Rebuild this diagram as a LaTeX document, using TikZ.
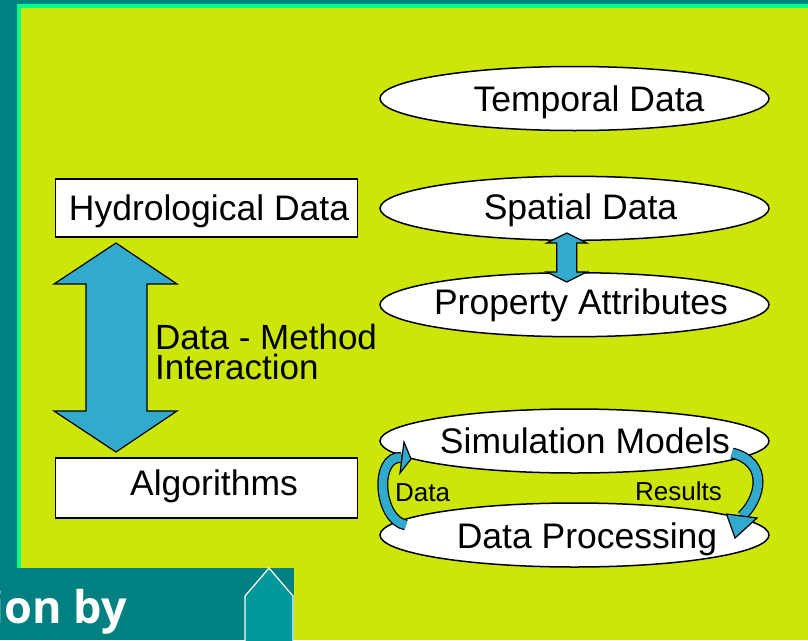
\documentclass[tikz,border=0pt]{standalone}
\usepackage{fontspec}
\setmainfont{Liberation Sans}
\newfontfamily\footerfont{Open Sans}
\usetikzlibrary{shapes.geometric}
\definecolor{tealbg}{RGB}{0,128,128}
\definecolor{mint}{RGB}{0,255,136}
\definecolor{lime}{RGB}{205,230,10}
\definecolor{arrowblue}{RGB}{50,170,205}
\definecolor{tealpent}{RGB}{0,153,153}
\begin{document}
\begin{tikzpicture}[x=1pt,y=-1pt,
  boxnode/.style={draw=black, line width=1.5pt, fill=white, rectangle, minimum width=302pt, inner sep=0pt},
  ellnode/.style={draw=black, line width=1.5pt, fill=white, ellipse, minimum width=389pt, minimum height=64pt, inner sep=0pt},
  lbl/.style={inner sep=0pt, anchor=base, font=\fontsize{35.5}{40}\selectfont},
  lblw/.style={inner sep=0pt, anchor=base west, font=\fontsize{35}{40}\selectfont},
  smalllbl/.style={inner sep=0pt, anchor=base west, font=\fontsize{26}{30}\selectfont},
  blockarrow/.style={draw=black, line width=1.2pt, fill=arrowblue, line join=miter},
  bodyout/.style={draw=black, line width=11pt},
  bodyin/.style={draw=arrowblue, line width=8.5pt},
]
\useasboundingbox (0,0) rectangle (808,640);
% background
\fill[tealbg] (0,0) rectangle (808,640);
\fill[mint] (17,4) rectangle (808,568);
\fill[lime] (21,8) rectangle (808,640);
\fill[tealbg] (0,568) rectangle (294,640);
\draw[white, line width=1.2pt, fill=tealpent] (245,642) -- (245,596) -- (269,568) -- (293,596) -- (293,642);
\node[inner sep=0pt, anchor=base east, text=white, font=\footerfont\bfseries\fontsize{45}{50}\selectfont] (footer) at (127,623) {ion by};

% left boxes
\node[boxnode, minimum height=58pt] (hydro) at (206.5,208) {};
\node[lbl] (hydroT) at (209,220) {Hydrological Data};
\node[boxnode, minimum height=60pt] (algo) at (206.5,488) {};
\node[lbl] (algoT) at (214,495) {Algorithms};

% big double arrow
\draw[blockarrow] (116,243) -- (177,284) -- (147,284) -- (147,411) -- (177,411)
  -- (116,452) -- (54,411) -- (86,411) -- (86,284) -- (54,284) -- cycle;
\node[lblw, text depth=0pt] (dm1) at (155,349.3) {Data - Method};
\node[lblw, text height=25pt] (dm2) at (155,379) {Interaction};

% ellipses
\node[ellnode] (temporal) at (574.5,98.5) {};
\node[lbl] (temporalT) at (589,111.5) {Temporal Data};
\node[ellnode] (spatial) at (574.5,208.3) {};
\node[lbl] (spatialT) at (580.5,219.3) {Spatial Data};
\node[ellnode] (property) at (574.5,304.7) {};
\node[lbl] (propertyT) at (581,314.3) {Property Attributes};
\node[ellnode] (simulation) at (574.5,441) {};
\node[lbl] (simulationT) at (585,453.3) {Simulation Models};
\node[ellnode] (processing) at (574.5,535) {};
\node[lbl] (processingT) at (587,548) {Data Processing};

% small double arrow between spatial and property
\draw[blockarrow] (566.7,233) -- (586.7,243) -- (576.7,243) -- (576.7,272) -- (586.7,272)
  -- (566.7,282) -- (546.7,272) -- (556.7,272) -- (556.7,243) -- (546.7,243) -- cycle;

% curved arrows
\coordinate (dtail) at (406,525);
\coordinate (dend) at (401.5,457.5);
\draw[bodyout] (dtail) .. controls (378,520) and (374,455) .. (dend);
\draw[bodyin] (dtail) .. controls (378,520) and (374,455) .. (dend);
\draw[blockarrow] (404,442) -- (411,459) -- (400,473) -- cycle;

\coordinate (rtail) at (732,453);
\coordinate (rend) at (742,516);
\draw[bodyout] (rtail) .. controls (769,462) and (761,498) .. (rend);
\draw[bodyin] (rtail) .. controls (769,462) and (761,498) .. (rend);
\draw[blockarrow] (726.5,514) -- (757,518) -- (735,538) -- cycle;

\node[smalllbl] (dataL) at (395,501.7) {Data};
\node[smalllbl] (resultsL) at (635,500) {Results};
\end{tikzpicture}
\end{document}
